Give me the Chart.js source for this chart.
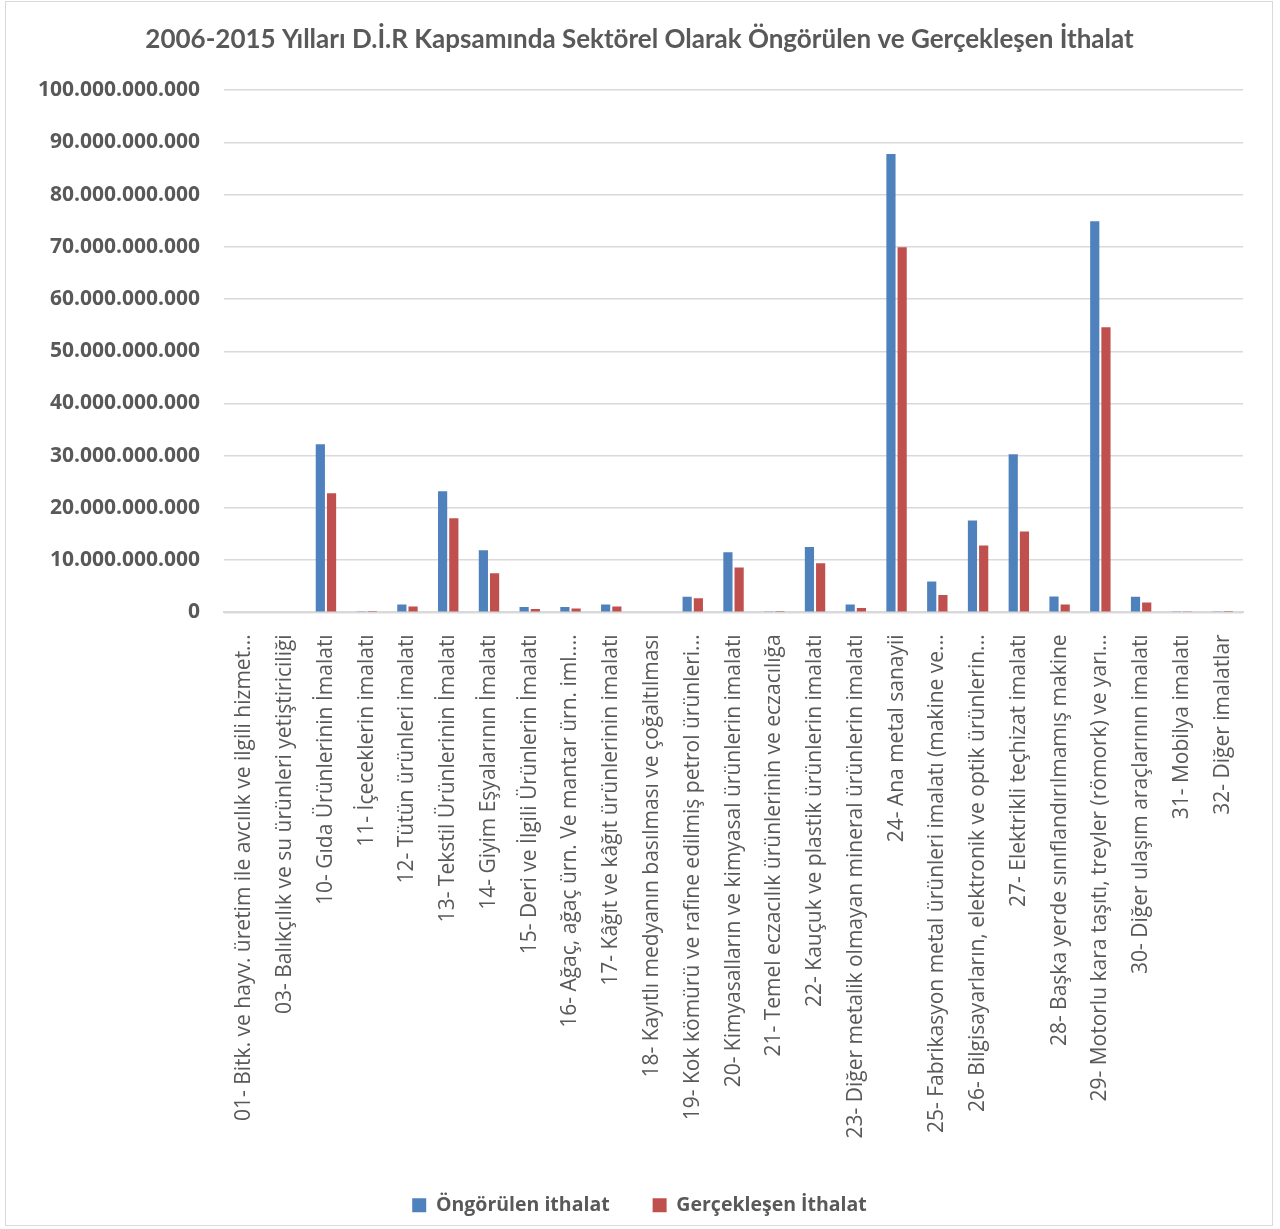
<!DOCTYPE html>
<html lang="tr">
<head>
<meta charset="utf-8">
<title>Öngörülen ve Gerçekleşen İthalat</title>
<script src="https://cdn.jsdelivr.net/npm/chart.js@4.4.1/dist/chart.umd.min.js"></script>
<style>
    html, body { margin: 0; padding: 0; background: #fff; }
    #frame {
        position: absolute; left: 5px; top: 1px;
        width: 1266px; height: 1223px;
        border: 1px solid #d9d9d9;
    }
    #wrap { position: absolute; left: 0; top: 0; width: 1280px; height: 1229px; }
</style>
</head>
<body>
<div id="frame"></div>
<div id="wrap"><canvas id="chart"></canvas></div>
<script>
/* ---- data (values in TL) ---- */
const sectors = [
    '01- Bitk. ve hayv. üretim ile avcılık ve ilgili hizmet...',
    '03- Balıkçılık ve su ürünleri yetiştiriciliği',
    '10- Gıda Ürünlerinin İmalatı',
    '11- İçeceklerin imalatı',
    '12- Tütün ürünleri imalatı',
    '13- Tekstil Ürünlerinin İmalatı',
    '14- Giyim Eşyalarının İmalatı',
    '15- Deri ve İlgili Ürünlerin İmalatı',
    '16- Ağaç, ağaç ürn. Ve mantar ürn. iml....',
    '17- Kâğıt ve kâğıt ürünlerinin imalatı',
    '18- Kayıtlı medyanın basılması ve çoğaltılması',
    '19- Kok kömürü ve rafine edilmiş petrol ürünleri...',
    '20- Kimyasalların ve kimyasal ürünlerin imalatı',
    '21- Temel eczacılık ürünlerinin ve eczacılığa',
    '22- Kauçuk ve plastik ürünlerin imalatı',
    '23- Diğer metalik olmayan mineral ürünlerin imalatı',
    '24- Ana metal sanayii',
    '25- Fabrikasyon metal ürünleri imalatı (makine ve...',
    '26- Bilgisayarların, elektronik ve optik ürünlerin...',
    '27- Elektrikli teçhizat imalatı',
    '28- Başka yerde sınıflandırılmamış makine',
    '29- Motorlu kara taşıtı, treyler (römork) ve yarı...',
    '30- Diğer ulaşım araçlarının imalatı',
    '31- Mobilya imalatı',
    '32- Diğer imalatlar'
];

const ongorulen = [
    0, 0, 32200000000, 100000000, 1500000000, 23200000000, 11900000000,
    1000000000, 1000000000, 1500000000, 0, 3000000000, 11500000000,
    100000000, 12500000000, 1500000000, 87800000000, 5900000000,
    17600000000, 30300000000, 3050000000, 74900000000, 3000000000,
    200000000, 100000000
];

const gerceklesen = [
    0, 0, 22800000000, 50000000, 1100000000, 18000000000, 7500000000,
    650000000, 750000000, 1100000000, 0, 2700000000, 8600000000,
    80000000, 9400000000, 850000000, 69900000000, 3300000000,
    12800000000, 15500000000, 1500000000, 54600000000, 1900000000,
    100000000, 50000000
];

const seriesNames = ['Öngörülen ithalat', 'Gerçekleşen İthalat'];
const yTicksMax = 100000000000;
const yTickStep = 10000000000;

/* thousands with dots, as in the original */
function dotted(v) {
    return String(Math.round(v)).replace(/\B(?=(\d{3})+(?!\d))/g, '.');
}

const FONT = "'Open Sans', sans-serif";
const TEXT = '#595959';

new Chart(document.getElementById('chart'), {
    type: 'bar',
    data: {
        labels: sectors,
        datasets: [
            {
                label: seriesNames[0],
                data: ongorulen,
                backgroundColor: '#4F81BD',
                barPercentage: 0.82,
                categoryPercentage: 0.55,
            },
            {
                label: seriesNames[1],
                data: gerceklesen,
                backgroundColor: '#C0504D',
                barPercentage: 0.82,
                categoryPercentage: 0.55,
            },
        ],
    },
    options: {
        responsive: true,
        maintainAspectRatio: false,
        animation: false,
        // symmetric side padding keeps title + legend centred on the frame
        layout: { padding: { left: 36, right: 37, top: 8, bottom: 4 } },
        plugins: {
            title: {
                display: true,
                text: '2006-2015 Yılları D.İ.R Kapsamında Sektörel Olarak Öngörülen ve Gerçekleşen İthalat',
                color: TEXT,
                font: { family: "Lato, 'Open Sans', sans-serif", size: 26, weight: 'bold' },
                padding: { top: 16, bottom: 35 },
            },
            legend: {
                position: 'bottom',
                labels: {
                    color: TEXT,
                    font: { family: FONT, size: 19.5, weight: 'bold' },
                    boxWidth: 14,
                    boxHeight: 14,
                    padding: 43,
                },
            },
            tooltip: { enabled: false },
        },
        scales: {
            x: {
                grid: { display: false },
                border: { color: '#d9d9d9', width: 2 },
                ticks: {
                    color: TEXT,
                    font: { family: FONT, size: 21 },
                    minRotation: 90,
                    maxRotation: 90,
                    autoSkip: false,
                    padding: 14,
                },
            },
            y: {
                min: 0,
                max: yTicksMax,
                grid: { color: '#d9d9d9', lineWidth: 1.5, drawTicks: false },
                border: { display: false },
                afterFit: (scale) => { scale.width -= 22; },
                ticks: {
                    stepSize: yTickStep,
                    color: TEXT,
                    font: { family: FONT, size: 21, weight: 'bold' },
                    padding: 24,
                    callback: (v) => dotted(v),
                },
            },
        },
    },
});
</script>
</body>
</html>
